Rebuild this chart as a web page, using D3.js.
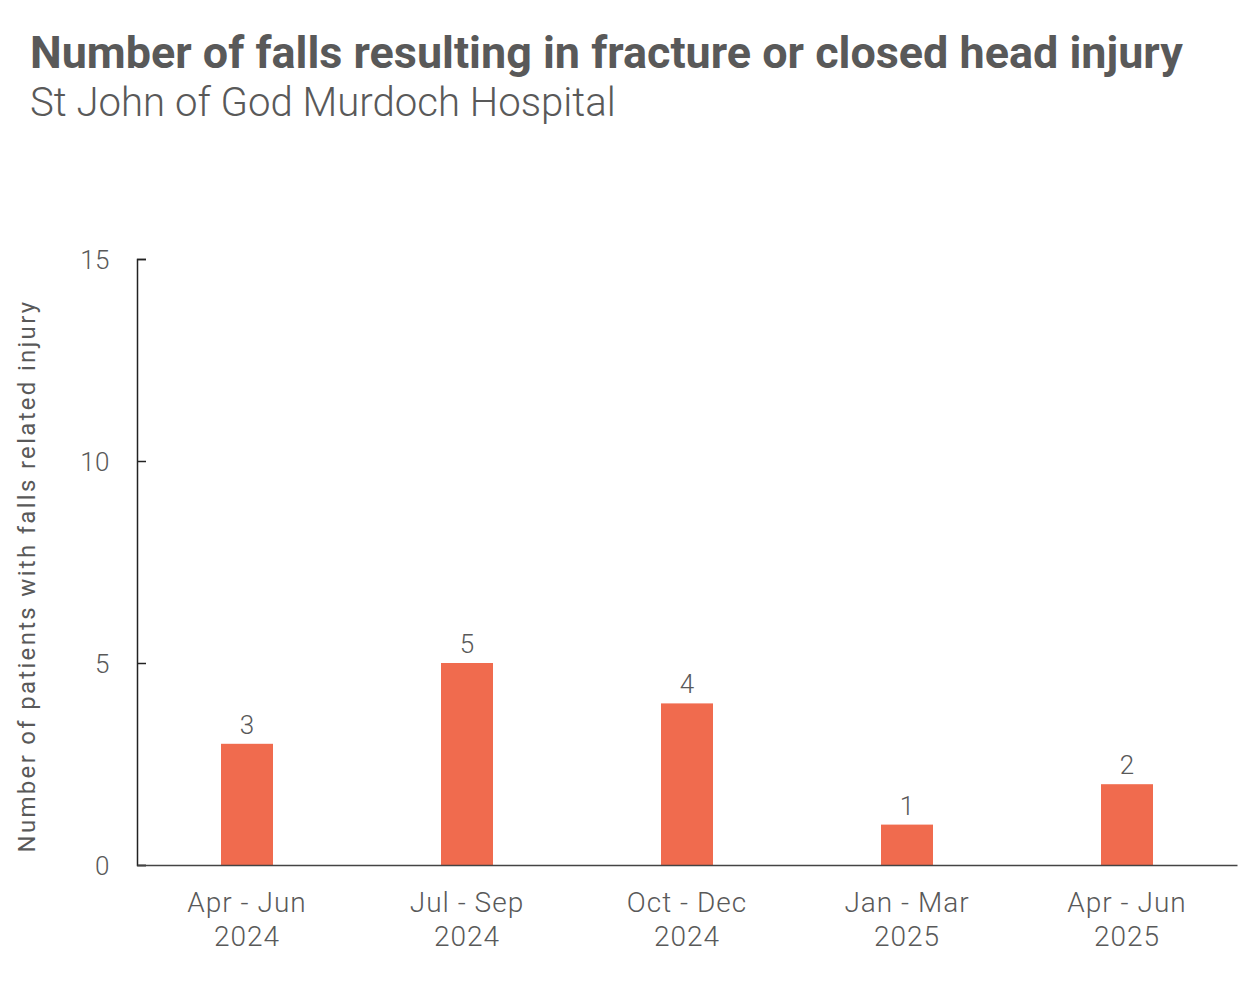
<!DOCTYPE html>
<html><head><meta charset="utf-8">
<script src="https://cdn.jsdelivr.net/npm/d3@7"></script>
<style>body{margin:0;background:#fff;}</style>
</head><body>
<svg id="chart" width="1260" height="981"></svg>
<script>
const titleText = "Number of falls resulting in fracture or closed head injury";
const subtitleText = "St John of God Murdoch Hospital";
const yAxisLabel = "Number of patients with falls related injury";
const categories = [["Apr - Jun","2024"],["Jul - Sep","2024"],["Oct - Dec","2024"],["Jan - Mar","2025"],["Apr - Jun","2025"]];
const values = [3,5,4,1,2];
const yTicks = [0,5,10,15];

const svg = d3.select("#chart");
const font = "Roboto, 'Noto Sans', sans-serif";
const textColor = "#595959";
const m = {left:137, right:1237, top:259, bottom:865};

const x = d3.scaleBand().domain(d3.range(categories.length)).range([m.left, m.right]);
const y = d3.scaleLinear().domain([0,15]).range([m.bottom, m.top]);

function fitText(sel, width){
  const w = sel.node().getComputedTextLength();
  const fs = parseFloat(sel.attr("font-size"));
  sel.attr("font-size", fs*width/w);
}

const t = svg.append("text").attr("x",30).attr("y",68).attr("font-family",font)
  .attr("font-weight",700).attr("font-size",40).attr("fill",textColor).text(titleText);
fitText(t, 1153);
const st = svg.append("text").attr("x",30).attr("y",116).attr("font-family",font)
  .attr("font-weight",300).attr("font-size",38).attr("fill",textColor).text(subtitleText);
fitText(st, 586);

// y axis
const yAxis = svg.append("g").attr("transform",`translate(${m.left},0)`)
  .call(d3.axisLeft(y).tickValues(yTicks).tickSize(-9).tickPadding(27));
yAxis.select(".domain").attr("stroke","#222").attr("stroke-width",1.5);
yAxis.selectAll(".tick line").attr("stroke","#222").attr("stroke-width",1.5);
yAxis.selectAll(".tick text").attr("font-family",font).attr("font-size",26)
  .attr("font-weight",300).attr("fill",textColor).attr("dy","0.35em").attr("letter-spacing",0.5);

// bars
const bw = 52;
svg.append("g").selectAll("rect").data(values).join("rect")
  .attr("x",(d,i)=>x(i)+x.bandwidth()/2-bw/2).attr("width",bw)
  .attr("y",d=>y(d)).attr("height",d=>y(0)-y(d)).attr("fill","#F06B4E");

// value labels
svg.append("g").selectAll("text").data(values).join("text")
  .attr("x",(d,i)=>x(i)+x.bandwidth()/2).attr("y",d=>y(d)-10)
  .attr("text-anchor","middle").attr("font-family",font).attr("font-size",26)
  .attr("font-weight",300).attr("fill",textColor).text(d=>d);

// x axis
const xAxis = svg.append("g").attr("transform",`translate(0,${m.bottom})`)
  .call(d3.axisBottom(x).tickSize(0).tickFormat(""));
xAxis.select(".domain").attr("stroke","#444").attr("stroke-width",1.5);
const xl = svg.append("g").selectAll("text").data(categories).join("text")
  .attr("x",(d,i)=>x(i)+x.bandwidth()/2).attr("y",912)
  .attr("text-anchor","middle").attr("font-family",font).attr("font-size",28)
  .attr("font-weight",300).attr("fill",textColor).attr("letter-spacing",1);
xl.append("tspan").attr("x",(d,i)=>x(i)+x.bandwidth()/2).text(d=>d[0]);
xl.append("tspan").attr("x",(d,i)=>x(i)+x.bandwidth()/2).attr("dy",34).text(d=>d[1]);

// y label
svg.append("text").attr("transform","translate(35,576) rotate(-90)")
  .attr("text-anchor","middle").attr("font-family",font).attr("font-size",24)
  .attr("font-weight",400).attr("fill",textColor).attr("letter-spacing",2.3).text(yAxisLabel);
</script>
</body></html>
